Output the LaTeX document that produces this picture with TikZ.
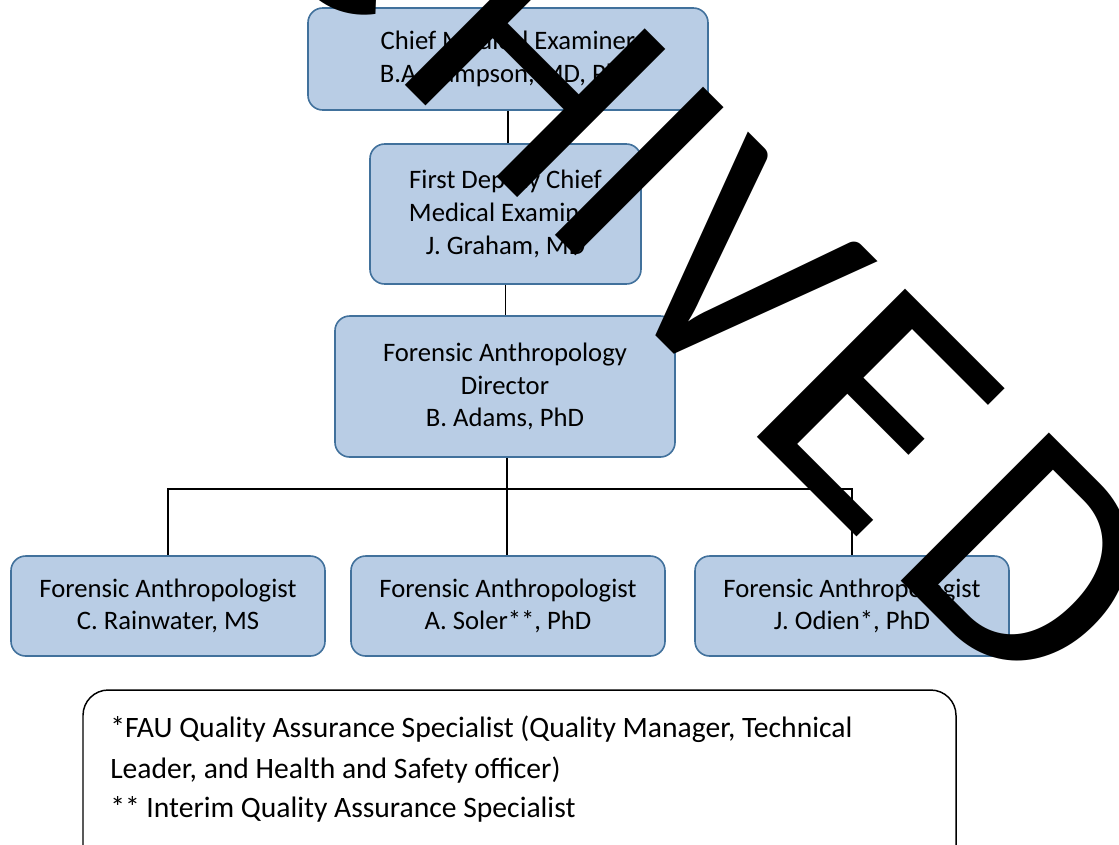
\documentclass[tikz,border=0pt]{standalone}
\usepackage{fontspec}
\setmainfont{Carlito}
\definecolor{boxfill}{HTML}{B9CDE5}
\definecolor{boxdraw}{HTML}{41719C}
\begin{document}
\begin{tikzpicture}[x=0.75pt,y=-0.75pt,
  orgbox/.style={draw=boxdraw, fill=boxfill, line width=1.2pt, rounded corners=11pt,
    align=center, font=\fontsize{20}{24.5}\selectfont, inner sep=0pt},
  link/.style={draw=black, line width=1.1pt},
  note/.style={anchor=base west, inner sep=0pt, font=\fontsize{22.2}{26}\selectfont},
  wmletter/.style={font=\fontsize{245}{250}\selectfont, rotate=-45, anchor=base, inner sep=0pt, text=black}]
\clip (0,0) rectangle (1119,844);
\fill[white] (0,0) rectangle (1119,844);

\node[orgbox, minimum width=300pt, minimum height=76.5pt] (b1) at (508,59)
  {Chief Medical Examiner\\B.A. Sampson, MD, PhD};
\node[orgbox, minimum width=203.25pt, minimum height=105pt] (b2) at (505.5,214)
  {First Deputy Chief\\Medical Examiner\\J. Graham, MD};
\node[orgbox, minimum width=255pt, minimum height=105.75pt] (b3) at (505,386.5)
  {Forensic Anthropology\\Director\\B. Adams, PhD};
\node[orgbox, minimum width=235.5pt, minimum height=75pt] (b4) at (168,606)
  {Forensic Anthropologist\\C. Rainwater, MS};
\node[orgbox, minimum width=235.5pt, minimum height=75pt] (b5) at (508,606)
  {Forensic Anthropologist\\A. Soler**, PhD};
\node[orgbox, minimum width=235.5pt, minimum height=75pt] (b6) at (852,606)
  {Forensic Anthropologist\\J. Odien*, PhD};

\coordinate (j) at (507,489);
\draw[link] (b1.south) -- (b1.south |- b2.north);
\draw[link] (b2.south) -- (b2.south |- b3.north);
\draw[link] (j |- b3.south) -- (j |- b5.north);
\draw[link] (b4.north) |- (j) -| (b6.north);

\draw[black, line width=1.1pt, rounded corners=19pt] (83,900) -- (83,690) -- (956,690) -- (956,900);
\node[note] (n1) at (110,737) {*FAU Quality Assurance Specialist (Quality Manager, Technical};
\node[note] (n2) at (110,778) {Leader, and Health and Safety officer)};
\node[note] (n3) at (110,817) {** Interim Quality Assurance Specialist};

% watermark "ARCHIVED", letters placed along the baseline y = x - 320
\node[wmletter] (wA) at (45,-275) {A};
\node[wmletter] (wR) at (176,-144) {R};
\node[wmletter] (wC) at (298,-22) {C};
\node[wmletter] (wH) at (461,141) {H};
\node[wmletter] (wI) at (566,246) {I};
\node[wmletter] (wV) at (665,345) {V};
\node[wmletter, xscale=1.15] (wE) at (803,483) {E};
\node[wmletter] (wD) at (957,637) {D};
\end{tikzpicture}
\end{document}
